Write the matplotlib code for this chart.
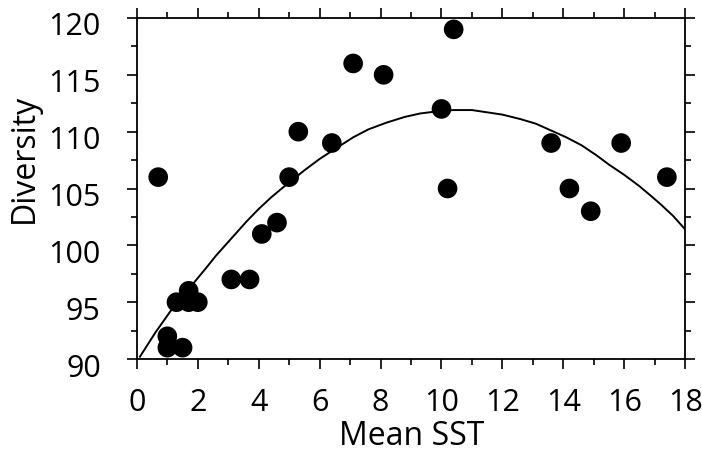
import numpy as np
import matplotlib.pyplot as plt
import matplotlib.transforms as mtransforms
from matplotlib.ticker import MultipleLocator

plt.rcParams['font.family'] = ['Open Sans', 'DejaVu Sans']

# observed sites: mean sea surface temperature vs. diversity
sst = [0.7, 1.0, 1.0, 1.5, 1.3, 1.7, 1.7, 2.0, 3.1, 3.7, 4.1, 4.6,
       5.0, 5.3, 6.4, 7.1, 8.1, 10.0, 10.2, 10.4, 13.6, 14.2, 14.9, 15.9, 17.4]
diversity = [106, 92, 91, 91, 95, 96, 95, 95, 97, 97, 101, 102,
             106, 110, 109, 116, 115, 112, 105, 119, 109, 105, 103, 109, 106]

# fitted trend line
fit_x = [0.1, 0.6, 1.1, 1.5, 1.9, 2.3, 2.6, 3.2, 3.6, 4.0, 4.4, 4.8, 5.5, 6.0, 6.4,
         7.1, 7.6, 8.2, 8.8, 9.3, 9.9, 10.4, 11.0, 11.5, 12.0, 12.6, 13.1, 13.6,
         14.1, 14.6, 15.1, 15.5, 16.0, 16.5, 16.9, 17.2, 17.6, 18.0]
fit_y = [90.2, 92.3, 94.2, 95.5, 96.8, 98.1, 99.1, 100.9, 102.1, 103.2, 104.2, 105.1,
         106.6, 107.6, 108.3, 109.5, 110.2, 110.8, 111.3, 111.6, 111.8, 111.9, 111.9,
         111.7, 111.5, 111.1, 110.7, 110.1, 109.5, 108.8, 107.9, 107.1, 106.2, 105.2,
         104.3, 103.6, 102.6, 101.4]

fig = plt.figure(figsize=(7.02, 4.52), dpi=100)
ax = fig.add_axes([0.195, 0.2035, 0.781, 0.7545])

ax.plot(fit_x, fit_y, color='black', lw=1.4, zorder=2)
ax.scatter(sst, diversity, s=200, color='black', edgecolors='none', zorder=3)

ax.set_xlim(0, 18)
ax.set_ylim(90, 120)
ax.xaxis.set_major_locator(MultipleLocator(2))
ax.xaxis.set_minor_locator(MultipleLocator(1))
ax.yaxis.set_major_locator(MultipleLocator(5))
ax.yaxis.set_minor_locator(MultipleLocator(2.5))

ax.tick_params(which='both', direction='out', top=True, right=True,
               labeltop=False, labelright=False, width=1.2, labelsize=22)
ax.tick_params(which='major', length=7)
ax.tick_params(which='minor', length=4)
ax.tick_params(axis='x', which='major', pad=13)
ax.tick_params(axis='y', which='major', pad=19)
for sp in ax.spines.values():
    sp.set_linewidth(1.3)

# y tick labels sit slightly below their ticks
drop = mtransforms.ScaledTranslation(0, -5 / 100, fig.dpi_scale_trans)
for lbl in ax.get_yticklabels():
    lbl.set_transform(lbl.get_transform() + drop)

ax.set_xlabel('Mean SST', fontsize=23)
ax.set_ylabel('Diversity', fontsize=23)
ax.xaxis.set_label_coords(0.502, -0.223)
ax.yaxis.set_label_coords(-0.206, 0.591)
ax.xaxis.label.set_va('center')
ax.yaxis.label.set_va('center')

fig.savefig('out.png', dpi=100)
